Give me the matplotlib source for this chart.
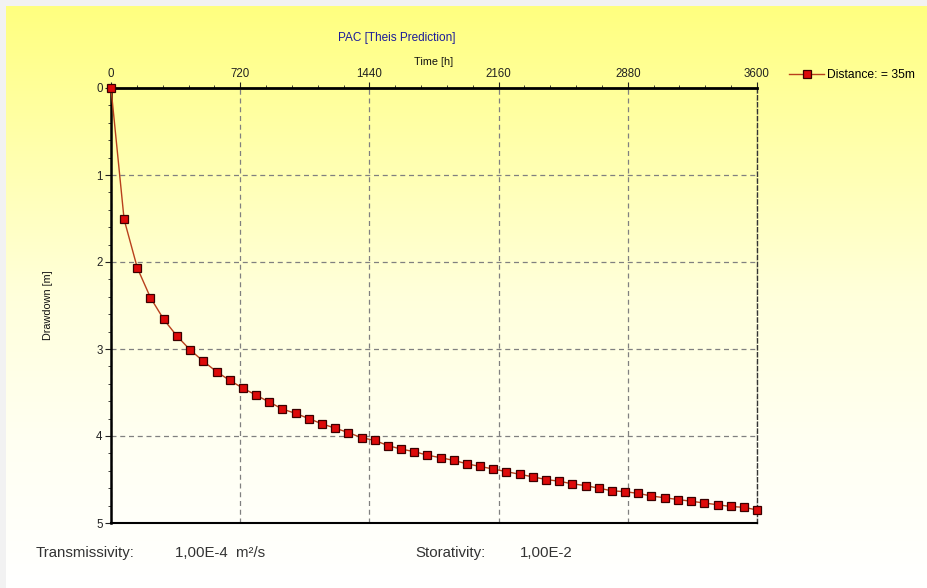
import matplotlib.pyplot as plt
import matplotlib.colors as mcolors
import numpy as np
from matplotlib.ticker import MultipleLocator

plt.rcParams['font.family'] = ['Liberation Sans', 'DejaVu Sans']

# tempo [h] e rebaixamento [m]
tempo = [0, 73, 147, 220, 294, 367, 441, 514, 588, 661,
         735, 808, 882, 955, 1029, 1102, 1176, 1249, 1322, 1396,
         1469, 1543, 1616, 1690, 1763, 1837, 1910, 1984, 2057, 2131,
         2204, 2278, 2351, 2424, 2498, 2571, 2645, 2718, 2792, 2865,
         2939, 3012, 3086, 3159, 3233, 3306, 3380, 3453, 3527, 3600]
rebaixamento = [0.00, 1.51, 2.07, 2.41, 2.66, 2.85, 3.01, 3.14, 3.26, 3.36,
                3.45, 3.53, 3.61, 3.69, 3.74, 3.80, 3.86, 3.91, 3.96, 4.02,
                4.05, 4.11, 4.15, 4.18, 4.22, 4.25, 4.28, 4.32, 4.35, 4.38,
                4.41, 4.44, 4.47, 4.50, 4.52, 4.55, 4.57, 4.60, 4.63, 4.64,
                4.66, 4.69, 4.71, 4.73, 4.75, 4.77, 4.79, 4.81, 4.82, 4.85]
ticks_x = [0, 720, 1440, 2160, 2880, 3600]
ticks_y = [0, 1, 2, 3, 4, 5]
legenda = 'Distance: = 35m'
titulo = 'PAC [Theis Prediction]'
rodape = [('Transmissivity:', 36), ('1,00E-4  m²/s', 175),
          ('Storativity:', 415), ('1,00E-2', 520)]

W, H = 928, 588
fig = plt.figure(figsize=(W / 100, H / 100), dpi=100)
fig.patch.set_facecolor('#f2f2f2')

# fundo em degrade amarelo -> branco
fundo = fig.add_axes([6 / W, 0, 1 - 6 / W, 1 - 6 / H])
fundo.set_axis_off()
cores = [(1.0, 1.0, 0.50), (1.0, 1.0, 0.68), (1.0, 1.0, 0.86), (1.0, 1.0, 0.95), (1.0, 1.0, 1.0)]
cmap = mcolors.LinearSegmentedColormap.from_list('fundo', cores)
grad = np.linspace(0, 1, 256).reshape(-1, 1)
fundo.imshow(grad, aspect='auto', cmap=cmap, extent=[0, 1, 0, 1], origin='upper')
fundo.set_xlim(0, 1)
fundo.set_ylim(0, 1)

x0, x1, y0, y1 = 111, 757, 88, 523
ax = fig.add_axes([x0 / W, 1 - y1 / H, (x1 - x0) / W, (y1 - y0) / H])
ax.patch.set_alpha(0)

ax.plot(tempo, rebaixamento, color='#b8401c', lw=1.0, marker='s', markersize=5.8,
        markerfacecolor='#dd0a0a', markeredgecolor='#3a0000', markeredgewidth=0.9,
        label=legenda, clip_on=False, zorder=5)

ax.set_xlim(0, 3600)
ax.set_ylim(5, 0)
ax.set_xticks(ticks_x)
ax.set_yticks(ticks_y)
ax.xaxis.set_minor_locator(MultipleLocator(144))
ax.yaxis.set_minor_locator(MultipleLocator(0.2))
ax.xaxis.tick_top()
ax.xaxis.set_label_position('top')
ax.tick_params(axis='both', which='major', labelsize=8.3, length=4, width=0.8, pad=2, colors='#222222')
ax.tick_params(axis='both', which='minor', length=2, width=0.6, colors='#222222')
ax.tick_params(axis='x', which='both', top=True, bottom=False)
ax.tick_params(axis='y', which='both', left=True, right=False)

ax.grid(True, which='major', color='#808080', linestyle=(0, (4, 3)), linewidth=0.9)

for lado in ['top', 'left', 'bottom']:
    ax.spines[lado].set_color('black')
ax.spines['top'].set_linewidth(2.0)
ax.spines['left'].set_linewidth(1.8)
ax.spines['bottom'].set_linewidth(1.5)
ax.spines['right'].set_linestyle((0, (3, 2)))
ax.spines['right'].set_color('#333333')
ax.spines['right'].set_linewidth(1.0)

ax.set_xlabel('Time [h]', fontsize=7.8, labelpad=2, color='#111111')
ax.set_ylabel('Drawdown [m]', fontsize=7.8, labelpad=31, color='#111111')

fig.text(397 / W, 1 - 38 / H, titulo, fontsize=8.5, color='#1c1c9a', ha='center', va='center')

ax.legend(loc='center left', bbox_to_anchor=(789 / W, 1 - 75 / H), bbox_transform=fig.transFigure,
          frameon=False, fontsize=8.7, handlelength=2.9, handletextpad=0.25, borderpad=0,
          borderaxespad=0)

for texto, xp in rodape:
    fig.text(xp / W, 1 - 553 / H, texto, fontsize=10.8, color='#333333', ha='left', va='center')

fig.savefig('out.png', dpi=100)
